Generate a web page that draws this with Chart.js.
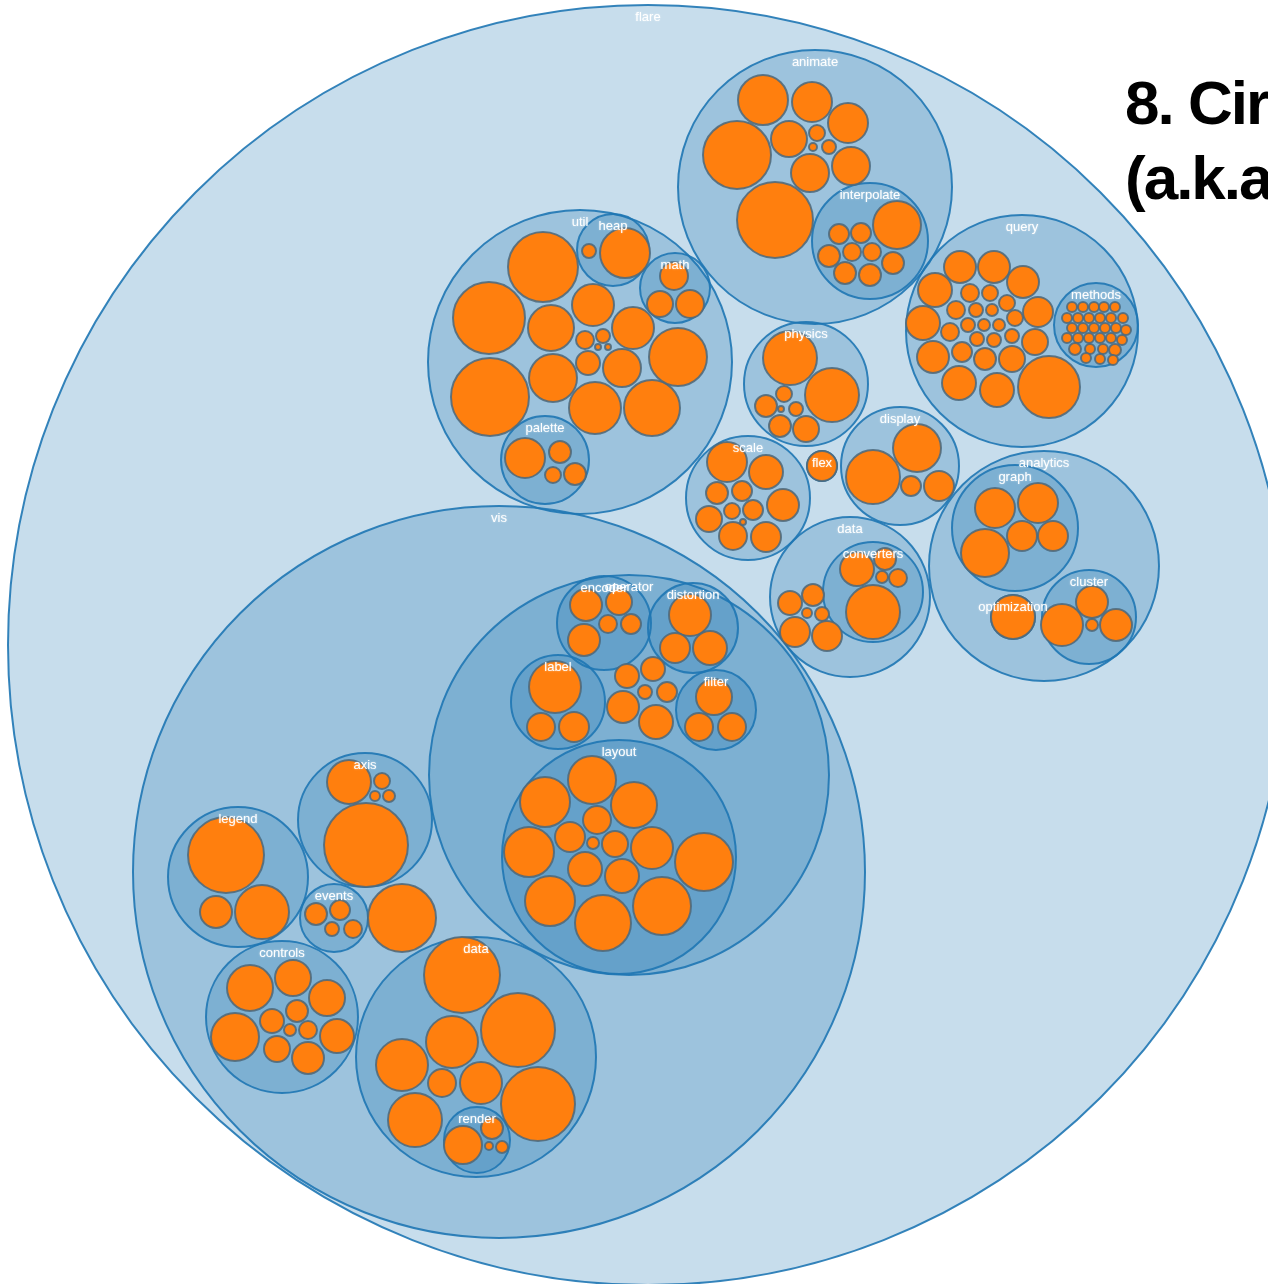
<!DOCTYPE html>
<html>
<head>
<meta charset="utf-8">
<script src="https://cdn.jsdelivr.net/npm/chart.js"></script>
<style>
html, body { margin: 0; padding: 0; background: #fff; overflow: hidden; }
#wrap { position: relative; width: 1268px; height: 1284px; overflow: hidden; }
#title {
    position: absolute; left: 1125px; top: 65px;
    font: bold 62px "Liberation Sans", Arial, sans-serif;
    line-height: 75px; letter-spacing: -2px;
    white-space: nowrap; color: #000;
}
</style>
</head>
<body>
<div id="wrap">
    <canvas id="pack" width="1268" height="1284"></canvas>
    <div id="title">8. Circle Packing<br>(a.k.a. Bubble Chart)</div>
</div>
<script>
// packages: name, centre x, centre y, radius, depth
var groupNames = ['flare', 'animate', 'interpolate', 'util', 'heap', 'math', 'palette',
    'query', 'methods', 'physics', 'display', 'scale', 'flex', 'data', 'converters',
    'analytics', 'graph', 'cluster', 'optimization', 'vis', 'operator', 'encoder',
    'distortion', 'label', 'filter', 'layout', 'axis', 'legend', 'events', 'controls',
    'data', 'render'];
var groupX = [648, 815, 870, 580, 613, 675, 545, 1022, 1096, 806, 900, 748, 822, 850, 873,
    1044, 1015, 1089, 1013, 499, 629, 604, 693, 558, 716, 619, 365, 238, 334, 282, 476, 477];
var groupY = [645, 187, 241, 362, 250, 288, 460, 331, 325, 384, 466, 498, 466, 597, 592,
    566, 528, 617, 617, 872, 775, 623, 628, 702, 710, 857, 820, 877, 918, 1017, 1057, 1140];
var groupR = [640, 137, 58, 152, 36, 35, 44, 116, 42, 62, 59, 62, 15, 80, 50,
    115, 63, 47, 22, 366, 200, 47, 45, 47, 40, 117, 67, 70, 34, 76, 120, 33];
var groupDepth = [0, 1, 2, 1, 2, 2, 2, 1, 2, 1, 1, 1, 1, 1, 2,
    1, 2, 2, 2, 1, 2, 3, 3, 3, 3, 3, 2, 2, 2, 2, 2, 3];

// leaf classes: [x, y, r]
var leavesAnimate = [[763, 100, 25], [812, 102, 20], [848, 123, 20], [737, 155, 34], [789, 139, 18],
    [817, 133, 8], [829, 147, 7], [813, 147, 4], [810, 173, 19], [851, 166, 19], [775, 220, 38]];
var leavesInterpolate = [[897, 225, 24], [839, 234, 10], [861, 233, 10], [829, 256, 11], [852, 252, 9],
    [872, 252, 9], [893, 263, 11], [845, 273, 11], [870, 275, 11]];
var leavesUtil = [[543, 267, 35], [489, 318, 36], [490, 397, 39], [551, 328, 23], [553, 378, 24],
    [593, 305, 21], [633, 328, 21], [595, 408, 26], [652, 408, 28], [678, 357, 29], [622, 368, 19],
    [588, 363, 12], [585, 340, 9], [603, 336, 7], [598, 347, 3], [608, 347, 3]];
var leavesHeap = [[589, 251, 7], [625, 253, 25]];
var leavesMath = [[674, 276, 14], [660, 304, 13], [690, 304, 14]];
var leavesPalette = [[525, 458, 20], [560, 452, 11], [553, 475, 8], [575, 474, 11]];
var leavesQuery = [[960, 267, 16], [994, 267, 16], [1023, 282, 16], [935, 290, 17], [970, 293, 9],
    [990, 293, 8], [1007, 303, 8], [1038, 312, 15], [923, 323, 17], [956, 310, 9], [976, 310, 7],
    [992, 310, 6], [1015, 318, 8], [968, 325, 7], [984, 325, 6], [999, 325, 6], [950, 332, 9],
    [1012, 336, 7], [977, 339, 7], [994, 340, 7], [1035, 342, 13], [933, 357, 16], [962, 352, 10],
    [985, 359, 11], [1012, 359, 13], [959, 383, 17], [997, 390, 17], [1049, 387, 31]];
var leavesMethods = [[1072, 307, 5], [1083, 307, 5], [1094, 307, 5], [1104, 307, 5], [1115, 307, 5],
    [1067, 318, 5], [1078, 318, 5], [1089, 318, 5], [1100, 318, 5], [1111, 318, 5], [1123, 318, 5],
    [1072, 328, 5], [1083, 328, 5], [1094, 328, 5], [1105, 328, 5], [1116, 328, 5], [1126, 330, 5],
    [1067, 338, 5], [1078, 338, 5], [1089, 338, 5], [1100, 338, 5], [1111, 338, 5], [1122, 340, 5],
    [1075, 349, 6], [1090, 349, 5], [1103, 349, 5], [1115, 350, 6],
    [1086, 358, 5], [1100, 359, 5], [1113, 360, 5]];
var leavesPhysics = [[790, 358, 27], [832, 395, 27], [784, 394, 8], [766, 406, 11], [796, 409, 7],
    [780, 426, 11], [806, 429, 13], [781, 409, 3]];
var leavesDisplay = [[917, 448, 24], [873, 477, 27], [911, 486, 10], [939, 486, 15]];
var leavesScale = [[727, 462, 20], [766, 472, 17], [717, 493, 11], [742, 491, 10], [783, 505, 16],
    [709, 519, 13], [732, 511, 8], [753, 510, 10], [733, 536, 14], [766, 537, 15], [743, 522, 3]];
var leavesFlex = [[822, 466, 15]];
var leavesData = [[790, 603, 12], [813, 595, 11], [807, 613, 5], [822, 614, 7], [795, 632, 15], [827, 636, 15]];
var leavesConverters = [[857, 569, 17], [885, 559, 11], [882, 577, 6], [898, 578, 9], [873, 612, 27]];
var leavesGraph = [[995, 508, 20], [1038, 503, 20], [985, 553, 24], [1022, 536, 15], [1053, 536, 15]];
var leavesCluster = [[1092, 602, 16], [1062, 625, 21], [1092, 625, 6], [1116, 625, 16]];
var leavesOptimization = [[1013, 617, 22]];
var leavesVis = [[402, 918, 34]];
var leavesOperator = [[627, 676, 12], [653, 669, 12], [645, 692, 7], [667, 692, 10], [623, 707, 16], [656, 722, 17]];
var leavesEncoder = [[586, 605, 16], [619, 602, 13], [584, 640, 16], [608, 624, 9], [631, 624, 10]];
var leavesDistortion = [[690, 615, 21], [675, 648, 15], [710, 648, 17]];
var leavesLabel = [[555, 687, 26], [541, 727, 14], [574, 727, 15]];
var leavesFilter = [[714, 697, 18], [699, 727, 14], [732, 727, 14]];
var leavesLayout = [[592, 780, 24], [545, 802, 25], [634, 805, 23], [597, 820, 14], [570, 837, 15],
    [593, 843, 6], [615, 844, 13], [529, 852, 25], [652, 848, 21], [704, 862, 29], [585, 869, 17],
    [622, 876, 17], [550, 901, 25], [603, 923, 28], [662, 906, 29]];
var leavesAxis = [[349, 782, 22], [382, 781, 8], [375, 796, 5], [389, 796, 6], [366, 845, 42]];
var leavesLegend = [[226, 855, 38], [216, 912, 16], [262, 912, 27]];
var leavesEvents = [[316, 914, 11], [340, 910, 10], [332, 929, 7], [353, 929, 9]];
var leavesControls = [[250, 988, 23], [293, 978, 18], [327, 998, 18], [235, 1037, 24], [272, 1021, 12],
    [297, 1011, 11], [290, 1030, 6], [308, 1030, 9], [337, 1036, 17], [277, 1049, 13], [308, 1058, 16]];
var leavesVisData = [[462, 975, 38], [518, 1030, 37], [452, 1042, 26], [402, 1065, 26], [442, 1083, 14],
    [481, 1083, 21], [538, 1104, 37], [415, 1120, 27]];
var leavesRender = [[463, 1145, 19], [492, 1128, 11], [489, 1146, 4], [502, 1147, 6]];

(function() {
    'use strict';

    var allLeaves = [].concat(leavesAnimate, leavesInterpolate, leavesUtil, leavesHeap, leavesMath,
        leavesPalette, leavesQuery, leavesMethods, leavesPhysics, leavesDisplay, leavesScale, leavesFlex,
        leavesData, leavesConverters, leavesGraph, leavesCluster, leavesOptimization, leavesVis,
        leavesOperator, leavesEncoder, leavesDistortion, leavesLabel, leavesFilter, leavesLayout,
        leavesAxis, leavesLegend, leavesEvents, leavesControls, leavesVisData, leavesRender);

    var datasets = [];
    // one dataset per depth, deeper ones drawn on top (lower order = on top)
    [0, 1, 2, 3].forEach(function(d) {
        var pts = [];
        groupNames.forEach(function(name, i) {
            if (groupDepth[i] === d) pts.push({ x: groupX[i], y: groupY[i], r: groupR[i] });
        });
        datasets.push({
            label: 'depth ' + d,
            data: pts,
            order: 4 - d,
            backgroundColor: 'rgba(31, 119, 180, 0.25)',
            borderColor: 'rgba(31, 119, 180, 0.9)',
            borderWidth: 2
        });
    });
    datasets.push({
        label: 'leaves',
        data: allLeaves.map(function(v) { return { x: v[0], y: v[1], r: v[2] }; }),
        order: 0,
        backgroundColor: '#ff7f0e',
        borderColor: 'rgba(75, 105, 125, 0.85)',
        borderWidth: 2
    });

    var labelPlugin = {
        id: 'packLabels',
        afterDatasetsDraw: function(chart) {
            var c = chart.ctx;
            var xs = chart.scales.x, ys = chart.scales.y;
            c.save();
            c.font = '13px "Liberation Sans", Arial, sans-serif';
            c.textAlign = 'center';
            c.textBaseline = 'middle';
            c.fillStyle = '#fff';
            c.shadowColor = 'rgba(255, 255, 255, 0.6)';
            c.shadowBlur = 2;
            groupNames.forEach(function(name, i) {
                var px = xs.getPixelForValue(groupX[i]);
                var py = ys.getPixelForValue(groupY[i]) - groupR[i] + 12;
                c.fillText(name, px, py);
            });
            c.restore();
        }
    };

    if (typeof Chart === 'undefined') {
        console.warn('Chart.js not loaded');
        return;
    }

    var ctx = document.getElementById('pack').getContext('2d');
    new Chart(ctx, {
        type: 'bubble',
        data: { datasets: datasets },
        options: {
            responsive: false,
            animation: false,
            events: [],
            // bubbles would otherwise push the chart area inward by their radius
            layout: { autoPadding: false, padding: 0 },
            plugins: {
                legend: { display: false },
                tooltip: { enabled: false }
            },
            scales: {
                x: { type: 'linear', min: 0, max: 1268, display: false },
                y: { type: 'linear', min: 0, max: 1284, reverse: true, display: false }
            }
        },
        plugins: [labelPlugin]
    });
})();
</script>
</body>
</html>
